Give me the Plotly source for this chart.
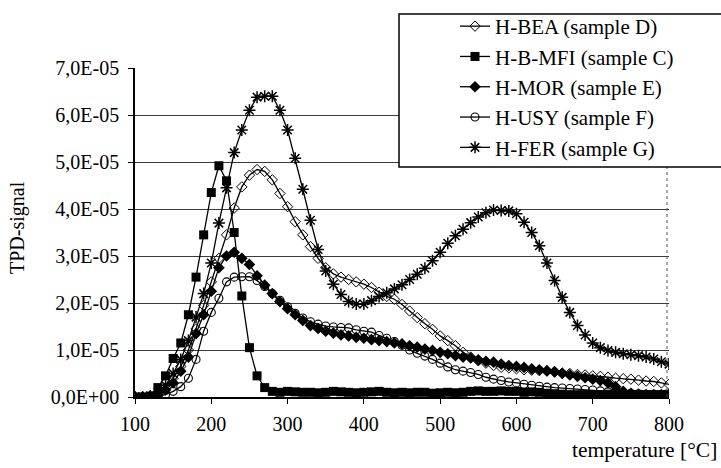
import plotly.graph_objects as go

# temperature [°C]
temps = [100, 110, 120, 130, 140, 150, 160, 170, 180, 190,
         200, 210, 220, 230, 240, 250, 260, 270, 280, 290,
         300, 310, 320, 330, 340, 350, 360, 370, 380, 390,
         400, 410, 420, 430, 440, 450, 460, 470, 480, 490,
         500, 510, 520, 530, 540, 550, 560, 570, 580, 590,
         600, 610, 620, 630, 640, 650, 660, 670, 680, 690,
         700, 710, 720, 730, 740, 750, 760, 770, 780, 790,
         800]

# TPD-signal values in units of 1E-05
bea = [0, 0, 0.02, 0.08, 0.2, 0.4, 0.65, 1.0, 1.45, 1.95,
       2.45, 2.95, 3.45, 4.02, 4.47, 4.72, 4.84, 4.8, 4.62, 4.33,
       4.05, 3.73, 3.45, 3.2, 2.95, 2.75, 2.62, 2.55, 2.5, 2.45,
       2.4, 2.33, 2.23, 2.14, 2.08, 1.97, 1.83, 1.69, 1.56, 1.44,
       1.3, 1.2, 1.09, 0.95, 0.85, 0.77, 0.72, 0.67, 0.63, 0.62,
       0.6, 0.58, 0.57, 0.56, 0.55, 0.53, 0.51, 0.5, 0.48, 0.47,
       0.45, 0.44, 0.42, 0.4, 0.39, 0.38, 0.36, 0.34, 0.33, 0.3,
       0.27]

mfi = [0, 0, 0.02, 0.2, 0.45, 0.82, 1.15, 1.75, 2.55, 3.45,
       4.35, 4.92, 4.6, 3.5, 2.15, 1.05, 0.45, 0.2, 0.12, 0.1,
       0.12, 0.11, 0.1, 0.1, 0.09, 0.1, 0.12, 0.11, 0.1, 0.09,
       0.1, 0.11, 0.12, 0.1, 0.09, 0.1, 0.09, 0.1, 0.1, 0.08,
       0.09, 0.1, 0.09, 0.1, 0.12, 0.13, 0.12, 0.12, 0.13, 0.12,
       0.12, 0.1, 0.11, 0.1, 0.08, 0.07, 0.06, 0.05, 0.05, 0.05,
       0.05, 0.05, 0.06, 0.05, 0.05, 0.05, 0.05, 0.05, 0.05, 0.05,
       0.06]

mor = [0, 0, 0.01, 0.05, 0.15, 0.3, 0.55, 0.85, 1.35, 1.75,
       2.25, 2.75, 3.0, 3.08, 2.95, 2.82, 2.58, 2.38, 2.2, 2.03,
       1.88, 1.75, 1.63, 1.52, 1.46, 1.4, 1.36, 1.32, 1.3, 1.27,
       1.25, 1.22, 1.2, 1.18, 1.15, 1.13, 1.09, 1.06, 1.02, 0.99,
       0.95, 0.92, 0.88, 0.85, 0.83, 0.79, 0.76, 0.74, 0.7, 0.67,
       0.65, 0.63, 0.6, 0.58, 0.56, 0.54, 0.5, 0.47, 0.44, 0.41,
       0.38, 0.35, 0.3, 0.22, 0.12, 0.08, 0.06, 0.05, 0.05, 0.05,
       0.05]

usy = [0, 0, 0, 0.02, 0.05, 0.12, 0.22, 0.4, 0.8, 1.4,
       1.8, 2.1, 2.45, 2.55, 2.56, 2.56, 2.48, 2.35, 2.2, 2.06,
       1.92, 1.78, 1.68, 1.6, 1.55, 1.51, 1.49, 1.48, 1.47, 1.43,
       1.4, 1.38, 1.31, 1.25, 1.18, 1.1, 1.0, 0.93, 0.87, 0.8,
       0.72, 0.64, 0.58, 0.55, 0.52, 0.48, 0.42, 0.38, 0.35, 0.32,
       0.3, 0.27, 0.25, 0.23, 0.21, 0.2, 0.19, 0.18, 0.17, 0.16,
       0.15, 0.13, 0.11, 0.1, 0.09, 0.08, 0.07, 0.06, 0.06, 0.05,
       0.05]

fer = [0, 0, 0.02, 0.1, 0.25, 0.5, 0.8, 1.2, 1.7, 2.2,
       2.85, 3.7, 4.45, 5.2, 5.68, 6.1, 6.38, 6.4, 6.4, 6.1,
       5.68, 5.08, 4.42, 3.76, 3.14, 2.68, 2.4, 2.18, 2.03, 1.98,
       1.98, 2.05, 2.14, 2.22, 2.3, 2.39, 2.5, 2.61, 2.74, 2.9,
       3.08, 3.27, 3.43, 3.57, 3.71, 3.83, 3.92, 3.98, 3.97, 3.96,
       3.9, 3.72, 3.5, 3.22, 2.85, 2.48, 2.12, 1.8, 1.52, 1.32,
       1.15, 1.05, 0.99, 0.95, 0.92, 0.9, 0.88, 0.85, 0.81, 0.75,
       0.7]

series_names = ["H-BEA (sample D)", "H-B-MFI (sample C)", "H-MOR (sample E)",
                "H-USY (sample F)", "H-FER (sample G)"]
scale = 1e-5

x_ticks = [100, 200, 300, 400, 500, 600, 700, 800]
y_tick_vals = [0, 1, 2, 3, 4, 5, 6, 7]
y_tick_text = ["0,0E+00", "1,0E-05", "2,0E-05", "3,0E-05", "4,0E-05",
               "5,0E-05", "6,0E-05", "7,0E-05"]

FONT = "Liberation Serif"

styles = [
    dict(symbol="diamond-open", size=8, line=dict(color="black", width=1)),
    dict(symbol="square", size=9, color="black", line=dict(color="black", width=0)),
    dict(symbol="diamond", size=9, color="black", line=dict(color="black", width=0)),
    dict(symbol="circle-open", size=8, line=dict(color="black", width=1.1)),
    dict(symbol="asterisk-open", size=10, line=dict(color="black", width=1.5)),
]
data = [bea, mfi, mor, usy, fer]

fig = go.Figure()
for name, vals, st in zip(series_names, data, styles):
    marker = dict(st)
    if "color" not in marker:
        marker["color"] = "black"
    fig.add_trace(go.Scatter(
        x=temps, y=[v * scale for v in vals], name=name, mode="lines+markers",
        line=dict(color="black", width=1.3), marker=marker,
    ))

L, R, T, B = 135, 52, 68, 71
W, H = 721, 468
pw, ph = W - L - R, H - T - B

def px_x(p):
    return (p - L) / pw

def px_y(p):
    return (H - B - p) / ph

fig.update_layout(
    width=W, height=H,
    margin=dict(l=L, r=R, t=T, b=B, autoexpand=False),
    paper_bgcolor="white", plot_bgcolor="white",
    font=dict(family=FONT, size=20, color="black"),
    showlegend=True,
    legend=dict(
        x=px_x(455), y=px_y(6), xanchor="left", yanchor="top",
        bgcolor="rgba(0,0,0,0)", borderwidth=0,
        font=dict(family=FONT, size=21, color="black"),
        tracegroupgap=0,
    ),
    xaxis=dict(
        range=[100, 800], tickvals=x_ticks, ticks="outside", ticklen=5,
        tickcolor="black", showline=True, linecolor="black", linewidth=1.5,
        showgrid=False, zeroline=False, tickfont=dict(family=FONT, size=20),
        automargin=False, ticklabelstandoff=3,
    ),
    yaxis=dict(
        range=[0, 7 * scale], tickvals=[v * scale for v in y_tick_vals],
        ticktext=y_tick_text, ticks="outside", ticklen=5, tickcolor="black",
        showline=True, linecolor="black", linewidth=1.5,
        showgrid=True, gridcolor="#3a3a3a", gridwidth=1, zeroline=False,
        tickfont=dict(family=FONT, size=20), automargin=False,
        ticklabelstandoff=5,
    ),
    shapes=[
        dict(type="line", xref="paper", yref="paper", x0=px_x(667), x1=px_x(667),
             y0=0, y1=1, line=dict(color="#555", width=1, dash="dot"), layer="above"),
        dict(type="rect", xref="paper", yref="paper", x0=px_x(399), x1=px_x(740),
             y0=px_y(167), y1=px_y(14), line=dict(color="black", width=1.5),
             fillcolor="white", layer="above"),
    ],
    annotations=[
        dict(text="TPD-signal", xref="paper", yref="paper", x=px_x(18), y=px_y(228),
             textangle=-90, showarrow=False, xanchor="center", yanchor="middle",
             font=dict(family=FONT, size=20)),
        dict(text="temperature [°C]", xref="paper", yref="paper", x=px_x(719),
             y=px_y(450), showarrow=False, xanchor="right", yanchor="middle",
             font=dict(family=FONT, size=21.5)),
    ],
)

fig.write_html("out.html", config={"displayModeBar": False},
               post_script="document.body.style.margin='0px';")
